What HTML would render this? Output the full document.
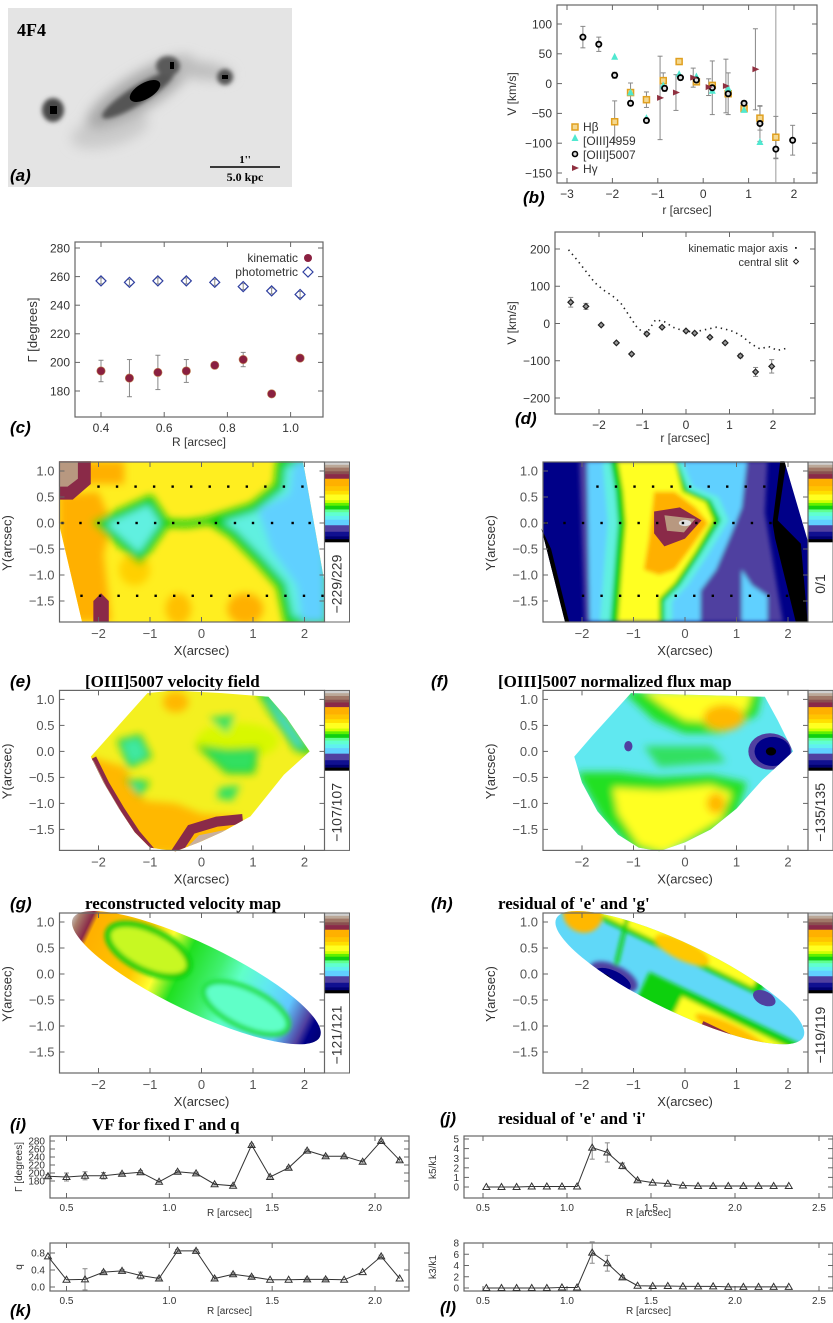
<!DOCTYPE html>
<html><head><meta charset="utf-8"><style>
html,body{margin:0;padding:0;background:#fff;}
svg{display:block;}
text{font-family:"Liberation Sans",sans-serif;}
.ser{font-family:"Liberation Serif",serif;font-weight:bold;}
.let{font-family:"Liberation Sans",sans-serif;font-weight:bold;font-style:italic;font-size:17px;fill:#000;}
</style></head><body>
<svg id="fig" xmlns="http://www.w3.org/2000/svg" width="833" height="1323" viewBox="0 0 833 1323">
<defs>
<filter id="bl2" x="-20%" y="-20%" width="140%" height="140%"><feGaussianBlur stdDeviation="2"/></filter>
<filter id="bl4" x="-20%" y="-20%" width="140%" height="140%"><feGaussianBlur stdDeviation="4"/></filter>
<filter id="bl6" x="-50%" y="-50%" width="200%" height="200%"><feGaussianBlur stdDeviation="6"/></filter>
<linearGradient id="gvel" x1="0" y1="0" x2="1" y2="0">
<stop offset="0" stop-color="#d0d0d0"/><stop offset="0.03" stop-color="#a87c6a"/><stop offset="0.07" stop-color="#8a2a48"/><stop offset="0.09" stop-color="#ffb000"/><stop offset="0.28" stop-color="#ffc800"/><stop offset="0.36" stop-color="#ffff30"/><stop offset="0.44" stop-color="#20e020"/><stop offset="0.56" stop-color="#40f070"/><stop offset="0.64" stop-color="#60ffc8"/><stop offset="0.74" stop-color="#60e8f0"/><stop offset="0.84" stop-color="#60c8ff"/><stop offset="0.92" stop-color="#5040a0"/><stop offset="0.95" stop-color="#000088"/><stop offset="1" stop-color="#000070"/>
</linearGradient>
</defs>
</svg>
<script>
// ---------- chart data ----------
const bO3Cats=[-2.65,-2.3,-1.95,-1.6,-1.25,-0.85,-0.5,-0.15,0.2,0.55,0.9,1.25,1.6,1.97];
const bO3Vals=[78,66,14,-33,-62,-8,10,6,-7,-17,-33,-67,-110,-95];
const bO3Errs=[18,12,5,4,4,5,4,4,45,35,4,30,16,25];
const bHbCats=[-1.95,-1.6,-1.25,-0.88,-0.53,-0.15,0.2,0.55,0.9,1.25,1.6];
const bHbVals=[-64,-15,-27,5,37,3,-3,-17,-42,-58,-90];
const bHbErrs=[35,16,13,13,5,5,5,5,5,20,35];
const bO4Cats=[-1.95,-1.6,-1.25,-0.88,-0.53,-0.15,0.2,0.55,0.9,1.25];
const bO4Vals=[45,-15,-58,-3,16,12,-12,-8,-44,-98];
const bO4Errs=[14,6,5,5,5,5,5,5,5,5];
const bHgCats=[-0.95,-0.6,-0.22,0.12,0.5,1.15];
const bHgVals=[-24,-15,10,-6,-4,24];
const bHgErrs=[70,30,16,14,45,68];
const bXTicks=[-3,-2,-1,0,1,2];
const bYTicks=[-150,-100,-50,0,50,100];
const cRadii=[0.40,0.49,0.58,0.67,0.76,0.85,0.94,1.03];
const cKin=[194,189,193,194,198,202,178,203];
const cKinErr=[7.5,13,12,8,2,5,1,1];
const cPhot=[257,256,257,257,256,253,250,247.5];
const cXTicks=[0.4,0.6,0.8,1.0];
const cYTicks=[180,200,220,240,260,280];
const dAxisR=[-2.7,-2.5,-2.3,-2.1,-1.9,-1.7,-1.5,-1.3,-1.1,-0.9,-0.7,-0.5,-0.3,-0.1,0.1,0.3,0.5,0.7,0.9,1.1,1.3,1.5,1.7,1.9,2.1,2.3];
const dAxisV=[198,170,140,110,90,75,55,20,-15,-25,10,5,-10,-18,-22,-20,-15,-10,-15,-22,-35,-55,-68,-62,-72,-67];
const dSlitR=[-2.65,-2.3,-1.95,-1.6,-1.25,-0.9,-0.55,0,0.2,0.55,0.9,1.25,1.6,1.97];
const dSlitV=[57,46,-4,-52,-82,-28,-10,-20,-26,-37,-52,-87,-130,-115];
const dSlitE=[13,8,0,0,0,0,0,0,0,0,0,5,12,18];
const dXTicks=[-2,-1,0,1,2];
const dYTicks=[-200,-100,0,100,200];
const ikR=[0.41,0.5,0.59,0.68,0.77,0.86,0.95,1.04,1.13,1.22,1.31,1.40,1.49,1.58,1.67,1.76,1.85,1.94,2.03,2.12];
const iGamma=[192,190,193,193,198,202,178,203,199,172,168,270,190,213,256,242,242,228,280,232];
const iGammaErr=[4,10,10,8,3,4,2,3,3,2,2,3,3,3,3,3,3,3,3,3];
const kQ=[0.72,0.17,0.18,0.35,0.38,0.27,0.2,0.85,0.85,0.2,0.3,0.24,0.17,0.17,0.18,0.18,0.17,0.35,0.72,0.2];
const kQErr=[0,0,0.25,0.03,0.03,0.08,0.03,0.03,0.03,0.03,0.03,0.03,0,0,0.03,0.03,0,0,0.03,0];
const ikXTicks=[0.5,1.0,1.5,2.0];
const iYTicks=[180,200,220,240,260,280];
const kYTicks=[0.0,0.4,0.8];
const jlR=[0.52,0.61,0.7,0.79,0.88,0.97,1.06,1.15,1.24,1.33,1.42,1.51,1.6,1.69,1.78,1.87,1.96,2.05,2.14,2.23,2.32];
const jK5=[0,0,0,0.05,0.05,0.05,0.05,4.1,3.6,2.2,0.7,0.45,0.35,0.15,0.1,0.1,0.1,0.1,0.1,0.1,0.1];
const jK5Err=[0,0,0,0,0,0,0,1.2,1.0,0.3,0.1,0,0,0,0,0,0,0,0,0,0];
const lK3=[0,0,0,0,0,0.1,0.1,6.3,4.4,1.9,0.4,0.35,0.35,0.3,0.3,0.3,0.2,0.2,0.2,0.2,0.2];
const lK3Err=[0,0,0,0,0,0,0,1.9,1.4,0.3,0,0,0,0,0,0,0,0,0,0,0];
const jlXTicks=[0.5,1.0,1.5,2.0,2.5];
const jYTicks=[0,1,2,3,4,5];
const lYTicks=[0,2,4,6,8];
const eDotRows=[0.7,0,-1.4];
const eDotX=[[-2.0,-1.64,-1.28,-0.92,-0.56,-0.2,0.16,0.52,0.88,1.24,1.6,1.96],[-2.7,-2.35,-2.0,-1.62,-1.26,-0.9,-0.55,-0.04,0.28,0.65,1.0,1.37,1.77,2.1],[-2.33,-1.97,-1.61,-1.25,-0.89,-0.53,-0.17,0.19,0.55,0.91,1.27,1.63,1.99,2.35]];
const fDotX=[[-1.7,-1.34,-0.98,-0.62,-0.26,0.1,0.46,0.82,1.18,1.54],[-2.7,-2.34,-1.98,-1.62,-1.26,-0.9,-0.54,-0.04,0.22,0.58,0.94,1.3,1.66],[-1.98,-1.62,-1.26,-0.9,-0.54,-0.18,0.18,0.54,0.9,1.26,1.62,1.98]];
const mapXTicks=[-2,-1,0,1,2];
const mapYTicks=[1.0,0.5,0.0,-0.5,-1.0,-1.5];

// ---------- helpers ----------
const NS='http://www.w3.org/2000/svg';
const svg=document.getElementById('fig');
function el(tag,at,parent){const e=document.createElementNS(NS,tag);for(const k in at)e.setAttribute(k,at[k]);(parent||svg).appendChild(e);return e;}
function txt(s,at,parent){const e=el('text',at,parent);e.textContent=s;return e;}
function lin(d0,d1,p0,p1){return v=>p0+(v-d0)*(p1-p0)/(d1-d0);}
function grp(name){const g=el('g',{});return g;}

function axes(g,X,Y,box,xt,yt,fs,fmtX,fmtY,col){
  const f=el('rect',{x:box[0],y:box[1],width:box[2]-box[0],height:box[3]-box[1],fill:'none',stroke:'#666','stroke-width':1.2},g);
  
  
  xt.forEach(v=>{const x=X(v);
    el('line',{x1:x,y1:box[3],x2:x,y2:box[3]-5,stroke:'#666'},g);
    el('line',{x1:x,y1:box[1],x2:x,y2:box[1]+5,stroke:'#666'},g);
    const t=txt(fmtX(v),{x:x,y:box[3]+fs+3,'font-size':fs,'text-anchor':'middle',fill:col},g);
    
    
  });
  yt.forEach(v=>{const y=Y(v);
    el('line',{x1:box[0],y1:y,x2:box[0]+5,y2:y,stroke:'#666'},g);
    el('line',{x1:box[2],y1:y,x2:box[2]-5,y2:y,stroke:'#666'},g);
    const t=txt(fmtY(v),{x:box[0]-5,y:y+fs*0.36,'font-size':fs,'text-anchor':'end',fill:col},g);
    
    
  });
}
const mf=v=>String(v).replace('-','\u2212');
const f1=v=>mf(v.toFixed(1));
function ebar(g,x,y0,y1){const l=el('line',{x1:x,y1:y0,x2:x,y2:y1,stroke:'#888','stroke-width':1},g);
  el('line',{x1:x-2.5,y1:y0,x2:x+2.5,y2:y0,stroke:'#888'},g);el('line',{x1:x-2.5,y1:y1,x2:x+2.5,y2:y1,stroke:'#888'},g);return l;}
function ylab(g,s,x,y,fs){const t=txt(s,{x:x,y:y,'font-size':fs,'text-anchor':'middle',fill:'#333',transform:'rotate(-90 '+x+' '+y+')'},g);return t;}
function xlab(g,s,x,y,fs){const t=txt(s,{x:x,y:y,'font-size':fs,'text-anchor':'middle',fill:'#333'},g);return t;}
function letter(s,x,y){const t=txt(s,{x:x,y:y,class:'let'});}
function title(s,x,y){const t=txt(s,{x:x,y:y,class:'ser','font-size':17});}

// ---------- panel a ----------
(function(){
  const g=grp('panel-a-image');
  el('rect',{x:8,y:8,width:284,height:179,fill:'#e4e4e4'},g);
  const blobs=el('g',{filter:'url(#bl6)'},g);
  el('ellipse',{cx:110,cy:130,rx:40,ry:16,fill:'#cbcbcb',transform:'rotate(-15 110 130)'},blobs);
  el('ellipse',{cx:140,cy:92,rx:62,ry:18,fill:'#a8a8a8',transform:'rotate(-32 140 92)'},blobs);
  el('ellipse',{cx:198,cy:70,rx:35,ry:9,fill:'#bdbdbd',transform:'rotate(8 198 70)'},blobs);
  const core=el('g',{filter:'url(#bl2)'},g);
  el('ellipse',{cx:138,cy:95,rx:42,ry:9,fill:'#555',transform:'rotate(-32 138 95)'},core);
  el('ellipse',{cx:168,cy:66,rx:12,ry:10,fill:'#5a5a5a'},core);
  el('ellipse',{cx:53,cy:110,rx:11,ry:12,fill:'#4a4a4a'},core);
  el('ellipse',{cx:225,cy:77,rx:8,ry:8,fill:'#555'},core);
  el('ellipse',{cx:145,cy:91,rx:17,ry:8,fill:'#000',transform:'rotate(-30 145 91)'},g);
  el('rect',{x:50,y:106,width:7,height:8,fill:'#000'},g);
  el('rect',{x:222,y:75,width:6,height:4,fill:'#000'},g);
  el('rect',{x:170,y:62,width:4,height:7,fill:'#000'},g);
  const t=txt('4F4',{x:17,y:36,class:'ser','font-size':18},g);
  
  
  el('line',{x1:210,y1:167,x2:280,y2:167,stroke:'#000','stroke-width':1.5},g);
  txt("1''",{x:245,y:163,class:'ser','font-size':11,'text-anchor':'middle','font-weight':'normal'},g);
  txt('5.0 kpc',{x:245,y:181,class:'ser','font-size':12,'text-anchor':'middle'},g);
  letter('(a)',10,181);
})();

// ---------- panel b ----------
(function(){
  const g=grp('panel-b-velocity-curve');
  const box=[557,5,817,183];
  const X=lin(-3,2,567,794), Y=lin(100,-150,24,173);
  axes(g,X,Y,box,bXTicks,bYTicks,12,mf,mf,'#333');
  el('line',{x1:X(1.6),y1:box[1],x2:X(1.6),y2:box[3],stroke:'#999'},g);
  bHgCats.forEach((c,i)=>{ebar(g,X(c),Y(bHgVals[i]+bHgErrs[i]),Y(bHgVals[i]-bHgErrs[i]));});
  bHbCats.forEach((c,i)=>{ebar(g,X(c),Y(bHbVals[i]+bHbErrs[i]),Y(bHbVals[i]-bHbErrs[i]));});
  bO3Cats.forEach((c,i)=>{ebar(g,X(c),Y(bO3Vals[i]+bO3Errs[i]),Y(bO3Vals[i]-bO3Errs[i]));});
  bHbCats.forEach((c,i)=>{const r=el('rect',{x:X(c)-3,y:Y(bHbVals[i])-3,width:6,height:6,fill:'#f4d890',stroke:'#e0a020','stroke-width':1.5},g);
    
    });
  bO4Cats.forEach((c,i)=>{const x=X(c),y=Y(bO4Vals[i]);const p=el('polygon',{points:`${x},${y-4} ${x-3.5},${y+3} ${x+3.5},${y+3}`,fill:'#50e8d0'},g);
    
    });
  bO3Cats.forEach((c,i)=>{const ci=el('circle',{cx:X(c),cy:Y(bO3Vals[i]),r:2.6,fill:'#ddd',stroke:'#000','stroke-width':1.8},g);
    
    });
  bHgCats.forEach((c,i)=>{const x=X(c),y=Y(bHgVals[i]);const p=el('polygon',{points:`${x-3},${y-3} ${x+4},${y} ${x-3},${y+3}`,fill:'#903040'},g);
    
    });
  const lg=el('g',{},g);
  
  
  el('rect',{x:572,y:124,width:6,height:6,fill:'#f4d890',stroke:'#e0a020','stroke-width':1.5},lg);
  el('polygon',{points:'575,134 571.5,141 578.5,141',fill:'#50e8d0'},lg);
  el('circle',{cx:575,cy:154,r:2.5,fill:'#ddd',stroke:'#000','stroke-width':1.6},lg);
  el('polygon',{points:'572,165 579,168 572,171',fill:'#903040'},lg);
  ['H\u03b2','[OIII]4959','[OIII]5007','H\u03b3'].forEach((s,i)=>{const t=txt(s,{x:583,y:131+i*14,'font-size':12,fill:'#333'},lg);
    
    });
  xlab(g,'r [arcsec]',687,214,12);
  ylab(g,'V [km/s]',516,94,12);
  letter('(b)',523,203);
})();

// ---------- panel c ----------
(function(){
  const g=grp('panel-c-position-angle');
  const box=[75,242,323,417];
  const X=lin(0.4,1.0,101,290.6), Y=lin(280,180,248,391);
  axes(g,X,Y,box,cXTicks,cYTicks,12,f1,String,'#333');
  cRadii.forEach((r,i)=>{ebar(g,X(r),Y(cKin[i]+cKinErr[i]),Y(cKin[i]-cKinErr[i]));
    const c=el('circle',{cx:X(r),cy:Y(cKin[i]),r:4.2,fill:'#8a2040',stroke:'#c08050','stroke-width':0.6},g);
    
    
    const x=X(r),y=Y(cPhot[i]);
    ebar(g,x,y-3,y+3);
    const d=el('polygon',{points:`${x},${y-5} ${x+5},${y} ${x},${y+5} ${x-5},${y}`,fill:'none',stroke:'#3040a0','stroke-width':1.2},g);
    
    });
  const t1=txt('kinematic',{x:298,y:262,'font-size':12,'text-anchor':'end',fill:'#333'},g);
  
  
  el('circle',{cx:308,cy:258,r:4,fill:'#8a2040'},g);
  const t2=txt('photometric',{x:298,y:276,'font-size':12,'text-anchor':'end',fill:'#333'},g);
  
  
  el('polygon',{points:'308,267 313,272 308,277 303,272',fill:'none',stroke:'#3040a0','stroke-width':1.2},g);
  xlab(g,'R [arcsec]',199,446,12);
  ylab(g,'\u0393 [degrees]',37,330,13);
  letter('(c)',10,433);
})();

// ---------- panel d ----------
(function(){
  const g=grp('panel-d-velocity-comparison');
  const box=[555,232,815,414];
  const X=lin(-2,2,599,773), Y=lin(200,-200,249,398);
  axes(g,X,Y,box,dXTicks,dYTicks,12,mf,mf,'#333');
  const pts=dAxisR.map((r,i)=>X(r)+','+Y(dAxisV[i])).join(' ');
  const pl=el('polyline',{points:pts,fill:'none',stroke:'#222','stroke-width':1.6,'stroke-dasharray':'1.4 4'},g);
  
  
  dSlitR.forEach((r,i)=>{const x=X(r),y=Y(dSlitV[i]);
    if(dSlitE[i]>0)ebar(g,x,Y(dSlitV[i]+dSlitE[i]),Y(dSlitV[i]-dSlitE[i]));
    const d=el('polygon',{points:`${x},${y-2.8} ${x+2.8},${y} ${x},${y+2.8} ${x-2.8},${y}`,fill:'#999',stroke:'#222','stroke-width':1.2},g);
    
    });
  const t1=txt('kinematic major axis',{x:788,y:252,'font-size':11,'text-anchor':'end',fill:'#333'},g);
  
  
  el('rect',{x:795,y:247,width:1.8,height:1.8,fill:'#222'},g);
  const t2=txt('central slit',{x:788,y:266,'font-size':11,'text-anchor':'end',fill:'#333'},g);
  
  
  el('polygon',{points:'796,259 798.5,261.5 796,264 793.5,261.5',fill:'none',stroke:'#222'},g);
  xlab(g,'r [arcsec]',685,442,12);
  ylab(g,'V [km/s]',516,323,12);
  letter('(d)',515,424);
})();

// ---------- maps ----------
const CB=[['#d0d0d0',3],['#bba898',3],['#a07868',4],['#8a5050',3],['#8a2a48',5],['#ffb000',8],['#ffc400',5],['#ffe000',4],['#ffff20',6],['#d0ff00',3],['#60f000',3],['#10d010',4],['#60ff90',3],['#60ffd0',4],['#60f0f0',4],['#60d0ff',6],['#5040a0',7],['#101090',5],['#000070',3],['#000',3]];
function mapPanel(name,x0,y0,cbLabel){
  const g=grp(name);
  const s=51.5, sy=52;
  const MX=v=>x0+v*s, MY=v=>y0-v*sy;
  const box=[x0-142,y0-61,x0+123,y0+99];
  const clipId='clip-'+name;
  const cp=el('clipPath',{id:clipId},g);
  const content=el('g',{'clip-path':'url(#'+clipId+')'},g);
  
  
  const cb=el('g',{},g);
  
  
  let yy=box[1];const tot=CB.reduce((a,b)=>a+b[1],0);
  CB.forEach(c=>{const h=c[1]/tot*80;el('rect',{x:box[2],y:yy,width:25,height:h+0.3,fill:c[0]},cb);yy+=h;});
  el('rect',{x:box[2],y:box[1],width:25,height:160,fill:'none',stroke:'#666'},cb);
  const cx=box[2]+17, cy=box[1]+122;
  const ct=txt(cbLabel,{x:cx,y:cy,'font-size':14,'text-anchor':'middle',fill:'#333',transform:`rotate(-90 ${cx} ${cy})`},cb);
  
  
  axes(g,MX,MY,box,mapXTicks,mapYTicks,13,mf,f1,'#555');
  xlab(g,'X(arcsec)',x0,box[3]+33,13);
  ylab(g,'Y(arcsec)',box[0]-48,y0+20,13);
  const P=a=>a.map(p=>MX(p[0])+','+MY(p[1])).join(' ');
  return {g,content,cp,MX,MY,P,box};
}
function poly(m,pts,fill,extra,parent){const a=Object.assign({points:m.P(pts),fill:fill},extra||{});return el('polygon',a,parent||m.content);}
function ell(m,x,y,rx,ry,fill,extra,parent){const a=Object.assign({cx:m.MX(x),cy:m.MY(y),rx:rx*51.5,ry:ry*52,fill:fill},extra||{});return el('ellipse',a,parent||m.content);}
function dots(m,rows,xs){rows.forEach((y,i)=>xs[i].forEach(x=>{const d=el('rect',{x:m.MX(x)-1.2,y:m.MY(y)-1.2,width:2.4,height:2.4,fill:'#000'},m.content);
  
  }));}

(function(){
  const m=mapPanel('panel-e-oiii-velocity-grid',201.5,523,'\u2212229/229');
  poly(m,[[-2.77,1.19],[1.97,1.19],[2.39,-1.15],[2.39,-1.9],[-2.32,-1.9],[-2.77,0]],'#fff',{},m.cp);
  const c=m.content;
  el('rect',{x:m.box[0],y:m.box[1],width:270,height:165,fill:'#ffee20'},c);
  const b=el('g',{filter:'url(#bl4)'},c);
  poly(m,[[-2.77,0.55],[-2.0,0.6],[-1.75,0.0],[-1.9,-0.6],[-1.75,-1.9],[-2.77,-1.9]],'#ffb000',{},b);
  poly(m,[[-2.3,1.19],[-1.5,1.19],[-1.5,0.75],[-2.3,0.75]],'#ffb000',{},b);
  ell(m,-0.45,-1.65,0.25,0.3,'#ffc000',{},b);
  ell(m,0.85,-1.65,0.35,0.3,'#ffb000',{},b);
  ell(m,-1.3,-0.9,0.3,0.3,'#ffd000',{},b);
  poly(m,[[0.2,0.05],[1.0,0.3],[1.5,0.7],[1.55,1.19],[2.4,1.19],[2.4,-1.9],[1.7,-1.9],[1.55,-1.2],[1.1,-0.7],[0.6,-0.2]],'#60f0e0',{stroke:'#10d010','stroke-width':9},b);
  poly(m,[[1.1,0.25],[1.7,0.55],[1.8,1.19],[2.4,1.19],[2.4,-1.9],[1.95,-1.9],[1.85,-1.2],[1.35,-0.5]],'#60d0ff',{},b);
  poly(m,[[-2.0,0],[-1.0,0.45],[-0.7,0.0],[-1.2,-0.7]],'#60f0e0',{stroke:'#10d010','stroke-width':8},b);
  el('polyline',{points:m.P([[-0.7,0],[-0.3,-0.02],[0.2,0.05]]),fill:'none',stroke:'#10d010','stroke-width':7},b);
  poly(m,[[-2.77,1.19],[-2.15,1.19],[-2.15,0.75],[-2.5,0.45],[-2.77,0.45]],'#8a2a48');
  poly(m,[[-2.77,1.19],[-2.4,1.19],[-2.4,0.85],[-2.6,0.7],[-2.77,0.7]],'#b89880');
  poly(m,[[-2.1,-1.9],[-2.1,-1.5],[-1.95,-1.35],[-1.8,-1.5],[-1.8,-1.9]],'#8a2a48');
  dots(m,eDotRows,eDotX);
  letter('(e)',10,687);
  title('[OIII]5007 velocity field',85,687);
})();

(function(){
  const m=mapPanel('panel-f-oiii-flux-grid',685,523,'0/1');
  poly(m,[[-2.79,1.19],[1.93,1.19],[2.38,-0.33],[2.38,-1.9],[-2.33,-1.9],[-2.79,-0.1]],'#fff',{},m.cp);
  const c=m.content;
  el('rect',{x:m.box[0],y:m.box[1],width:270,height:165,fill:'#000088'},c);
  poly(m,[[-2.79,-0.1],[-2.6,-0.5],[-2.25,-1.9],[-2.45,-1.9],[-2.79,-0.9]],'#000');
  const b=el('g',{filter:'url(#bl2)'},c);
  poly(m,[[-2.05,1.19],[1.6,1.19],[1.55,0.2],[1.9,-1.9],[-1.95,-1.9]],'#5040a0',{},b);
  poly(m,[[-1.9,1.19],[1.2,1.19],[1.1,0.3],[0.9,-0.2],[0.6,-0.9],[0.3,-1.3],[0.3,-1.9],[-1.85,-1.9]],'#60d0ff',{},b);
  poly(m,[[1.1,-0.9],[1.3,-1.2],[1.6,-1.4],[1.6,-1.9],[1.1,-1.9]],'#60d0ff',{},b);
  poly(m,[[-1.6,1.19],[-0.05,1.19],[0.15,0.7],[0.65,0.5],[0.85,0.05],[0.45,-0.6],[0.05,-1.2],[-0.25,-1.5],[-0.25,-1.9],[-1.65,-1.9],[-1.55,-0.6],[-1.5,0],[-1.55,0.6]],'#60f0e0',{},b);
  poly(m,[[-1.45,1.19],[-0.15,1.19],[0.05,0.65],[0.5,0.45],[0.7,0.05],[0.3,-0.6],[-0.1,-1.2],[-0.4,-1.5],[-0.4,-1.9],[-1.45,-1.9],[-1.35,-0.6],[-1.3,0],[-1.35,0.6]],'#10d010',{},b);
  poly(m,[[-1.3,1.19],[-0.2,1.19],[-0.05,0.6],[0.4,0.4],[0.55,0.05],[0.2,-0.55],[-0.2,-1.15],[-0.5,-1.45],[-0.5,-1.9],[-1.3,-1.9],[-1.2,-0.6],[-1.15,0],[-1.2,0.6]],'#ffff20',{},b);
  poly(m,[[-0.6,0.6],[-0.2,0.6],[0.2,0.3],[0.45,0.0],[0.1,-0.5],[-0.2,-0.9],[-0.5,-1.0],[-0.8,-0.9],[-0.7,-0.3]],'#ffb000',{},b);
  poly(m,[[1.85,1.19],[1.97,1.19],[1.8,0.05],[2.25,-0.4],[2.38,-1.9],[2.15,-1.9],[1.75,-0.3],[1.7,0.0]],'#000');
  poly(m,[[-0.6,0.22],[-0.1,0.3],[0.32,0.05],[0.0,-0.3],[-0.4,-0.45],[-0.6,-0.2]],'#8a2a48');
  poly(m,[[-0.4,0.15],[0.2,0.08],[-0.02,-0.18],[-0.35,-0.15]],'#b89880');
  ell(m,0,0,0.12,0.06,'#e0e0e0');
  dots(m,eDotRows,fDotX);
  letter('(f)',431,687);
  title('[OIII]5007 normalized flux map',498,687);
})();

(function(){
  const m=mapPanel('panel-e2-velocity-field',201.5,751.4,'\u2212107/107');
  const outline=[[-1.05,1.12],[-0.55,1.17],[0.4,1.12],[1.3,1.05],[1.65,0.65],[2.1,0.0],[1.6,-0.45],[0.95,-1.25],[0.4,-1.55],[-0.05,-1.75],[-0.5,-1.92],[-1.0,-1.85],[-1.3,-1.55],[-1.6,-1.1],[-1.9,-0.6],[-2.15,-0.1]];
  poly(m,outline,'#fff',{},m.cp);
  const c=m.content;
  el('rect',{x:m.box[0],y:m.box[1],width:270,height:165,fill:'#f4f020'},c);
  const b=el('g',{filter:'url(#bl4)'},c);
  poly(m,[[-2.15,-0.1],[-1.5,-0.3],[-1.1,-0.95],[-0.5,-1.0],[0.0,-1.2],[0.7,-1.25],[0.7,-1.95],[-2.2,-1.95]],'#ffb800',{},b);
  ell(m,-0.5,0.95,0.25,0.2,'#ffb800',{},b);
  ell(m,0.7,0.2,0.8,0.35,'#d8f800',{},b);
  poly(m,[[1.3,1.12],[1.65,0.65],[2.1,0.0],[1.85,0.05],[1.5,0.55],[1.15,1.12]],'#60e0ff',{stroke:'#10d010','stroke-width':5},b);
  poly(m,[[-1.6,0.2],[-1.2,0.3],[-1.0,-0.1],[-1.4,-0.3]],'#40e8a0',{stroke:'#10d010','stroke-width':3},b);
  poly(m,[[-1.45,-0.55],[-1.05,-0.6],[-1.2,-0.85]],'#40e8a0',{stroke:'#10d010','stroke-width':3},b);
  poly(m,[[0.15,0.65],[0.65,0.7],[0.5,0.35]],'#30e060',{},b);
  poly(m,[[-0.05,0.1],[0.5,0.02],[1.1,0.05],[1.0,-0.4],[0.5,-0.4]],'#30e060',{stroke:'#10d010','stroke-width':3},b);
  poly(m,[[0.35,-0.7],[0.75,-0.65],[0.6,-0.95],[0.3,-0.9]],'#30e060',{},b);
  el('polyline',{points:m.P([[-2.15,-0.15],[-1.9,-0.65],[-1.6,-1.15],[-1.3,-1.6],[-1.0,-1.95]]),fill:'none',stroke:'#8a2a48','stroke-width':12},c);
  el('polyline',{points:m.P([[-2.15,-0.2],[-1.9,-0.7],[-1.6,-1.2],[-1.3,-1.65],[-1.0,-2.0]]),fill:'none',stroke:'#b89880','stroke-width':6},c);
  el('polyline',{points:m.P([[-0.5,-1.95],[-0.2,-1.5],[0.3,-1.35],[0.8,-1.3]]),fill:'none',stroke:'#8a2a48','stroke-width':10},c);
  el('polyline',{points:m.P([[-0.3,-2.0],[0.0,-1.7],[0.5,-1.6]]),fill:'none',stroke:'#c8b0a0','stroke-width':10},c);
  letter('(g)',10,909);
  title('reconstructed velocity map',85,909);
})();

(function(){
  const m=mapPanel('panel-f2-flux-map',685,751.4,'\u2212135/135');
  const outline=[[-1.05,1.12],[1.55,1.05],[1.8,0.6],[2.1,0.0],[1.5,-0.55],[1.0,-1.1],[0.5,-1.5],[0.0,-1.75],[-0.5,-1.92],[-0.9,-1.85],[-1.3,-1.6],[-1.7,-1.15],[-2.0,-0.6],[-2.15,-0.1],[-1.8,0.3]];
  poly(m,outline,'#fff',{},m.cp);
  const c=m.content;
  el('rect',{x:m.box[0],y:m.box[1],width:270,height:165,fill:'#60e8f0'},c);
  const b=el('g',{filter:'url(#bl4)'},c);
  poly(m,[[-1.2,1.15],[1.5,1.15],[1.4,0.7],[0.7,0.35],[0.0,0.35],[-0.6,0.6]],'#20e020',{},b);
  poly(m,[[-0.8,1.15],[1.3,1.15],[1.2,0.8],[0.6,0.55],[0.0,0.6],[-0.4,0.85]],'#ffff20',{},b);
  ell(m,0.75,0.65,0.4,0.25,'#ffb800',{},b);
  poly(m,[[-2.1,-0.4],[-1.3,-0.4],[-0.5,-0.5],[0.5,-0.45],[1.2,-0.6],[1.0,-1.2],[0.5,-1.6],[-0.5,-2.0],[-1.0,-1.9],[-1.6,-1.3]],'#20e020',{},b);
  poly(m,[[-1.4,-0.7],[-0.5,-0.75],[0.5,-0.65],[0.9,-0.8],[0.7,-1.3],[0.2,-1.6],[-0.4,-1.95],[-0.9,-1.8],[-1.3,-1.2]],'#ffff20',{},b);
  ell(m,0.6,-1.0,0.18,0.2,'#ffb800',{},b);
  poly(m,[[-0.8,0.1],[0.5,0.1],[0.8,-0.2],[-0.5,-0.3]],'#30e060',{},b);
  ell(m,1.65,0.0,0.42,0.35,'#5040a0');
  ell(m,1.7,0.0,0.35,0.28,'#000088');
  ell(m,1.67,0.0,0.1,0.08,'#000');
  ell(m,-1.1,0.1,0.08,0.1,'#5040a0');
  letter('(h)',431,909);
  title("residual of 'e' and 'g'",498,909);
})();

function ellMap(name,x0,cbLabel){
  const m=mapPanel(name,x0,974,cbLabel);
  const cx=m.MX(-0.1), cy=m.MY(-0.07);
  const tf=`translate(${cx} ${cy}) rotate(25.6)`;
  el('ellipse',{cx:0,cy:0,rx:137,ry:34,transform:tf},m.cp);
  const L=el('g',{transform:tf},m.content);
  return {m,L};
}
(function(){
  const {m,L}=ellMap('panel-g-reconstructed-velocity',201.5,'\u2212121/121');
  el('rect',{x:-140,y:-40,width:280,height:80,fill:'url(#gvel)'},L);
  const b=el('g',{filter:'url(#bl2)'},L);
  el('ellipse',{cx:-55,cy:-4,rx:44,ry:20,fill:'#c8f820',stroke:'#10d010','stroke-width':6},b);
  el('ellipse',{cx:58,cy:6,rx:46,ry:19,fill:'#60ffc8',stroke:'#20e040','stroke-width':5},b);
})();
(function(){
  const {m,L}=ellMap('panel-h-residual-e-g',685,'\u2212119/119');
  el('rect',{x:-140,y:-40,width:280,height:80,fill:'#60d8f8'},L);
  const b=el('g',{filter:'url(#bl2)'},L);
  el('rect',{x:-140,y:-40,width:220,height:22,fill:'#10d010'},b);
  el('rect',{x:-140,y:-40,width:210,height:17,fill:'#ffff20'},b);
  el('ellipse',{cx:-115,cy:-15,rx:20,ry:18,fill:'#ffb800'},b);
  el('ellipse',{cx:-10,cy:-26,rx:30,ry:10,fill:'#ffc800'},b);
  el('line',{x1:-75,y1:-40,x2:-60,y2:30,stroke:'#10d010','stroke-width':4},b);
  el('rect',{x:-30,y:8,width:170,height:32,fill:'#10d010'},b);
  el('rect',{x:10,y:16,width:130,height:24,fill:'#ffff20'},b);
  el('ellipse',{cx:70,cy:27,rx:40,ry:8,fill:'#ffc000'},b);
  el('ellipse',{cx:-60,cy:28,rx:26,ry:12,fill:'#5040a0'},b);
  el('ellipse',{cx:-60,cy:31,rx:20,ry:9,fill:'#000088'},L);
  el('ellipse',{cx:-68,cy:34,rx:9,ry:5,fill:'#000'},L);
  el('ellipse',{cx:85,cy:-18,rx:12,ry:7,fill:'#5040a0'},L);
  el('rect',{x:40,y:29,width:50,height:8,fill:'#8a2a48'},L);
})();
letter('(i)',10,1130);
title('VF for fixed \u0393 and q',92,1130);
letter('(j)',440,1124);
title("residual of 'e' and 'i'",498,1124);

function linePanel(name,box,X,Y,xt,yt,fy,xs,ys,es,yl,xlY){
  const g=grp(name);
  axes(g,X,Y,box,xt,yt,10,f1,fy,'#333');
  xs.forEach((r,i)=>{if(es[i]>0)ebar(g,X(r),Y(ys[i]+es[i]),Y(ys[i]-es[i]));});
  const pl=el('polyline',{points:xs.map((r,i)=>X(r)+','+Y(ys[i])).join(' '),fill:'none',stroke:'#333','stroke-width':1},g);
  
  
  xs.forEach((r,i)=>{const x=X(r),y=Y(ys[i]);
    const p=el('polygon',{points:`${x},${y-3.5} ${x-3.5},${y+2.5} ${x+3.5},${y+2.5}`,fill:'none',stroke:'#333','stroke-width':1},g);
    
    });
  xlab(g,'R [arcsec]',(box[0]+box[2])/2,xlY,10);
  ylab(g,yl,box[0]-28,(box[1]+box[3])/2,10);
}
const fInt=v=>String(v);
linePanel('panel-i-gamma',[50,1136,409,1198],lin(0.5,2.0,66.5,375),lin(280,180,1141,1181),ikXTicks,iYTicks,fInt,ikR,iGamma,iGammaErr,'\u0393 [degrees]',1216);
linePanel('panel-k-q',[50,1243,409,1291],lin(0.5,2.0,66.5,375),lin(0.8,0,1253,1287),ikXTicks,kYTicks,f1,ikR,kQ,kQErr,'q',1314);
linePanel('panel-j-k5-k1',[464,1136,833,1198],lin(0.5,2.5,483,819),lin(5,0,1139,1187),jlXTicks,jYTicks,fInt,jlR,jK5,jK5Err,'k5/k1',1216);
linePanel('panel-l-k3-k1',[464,1243,833,1291],lin(0.5,2.5,483,819),lin(8,0,1243,1288),jlXTicks,lYTicks,fInt,jlR,lK3,lK3Err,'k3/k1',1314);
letter('(k)',10,1316);
letter('(l)',440,1313);
</script>
</body></html>
